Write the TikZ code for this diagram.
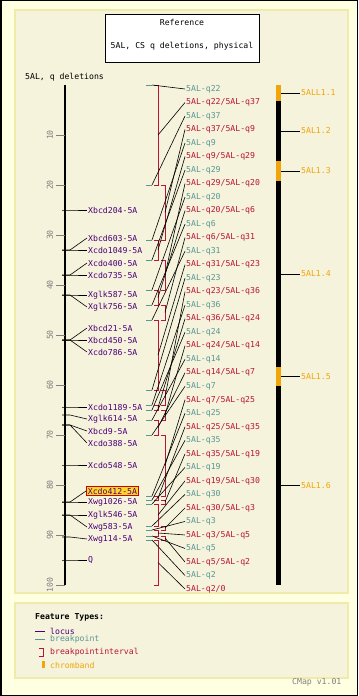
\documentclass[tikz,border=0pt]{standalone}
\usepackage{fontspec}
\setmainfont{DejaVu Sans Mono}
\definecolor{paper}{RGB}{255,255,226}
\definecolor{panel}{RGB}{245,243,220}
\definecolor{panelrule}{RGB}{240,235,170}
\definecolor{locuscol}{RGB}{75,0,120}
\definecolor{bpcol}{RGB}{90,150,150}
\definecolor{intcol}{RGB}{185,20,55}
\definecolor{bandcol}{RGB}{240,165,10}
\definecolor{tickcol}{RGB}{128,128,128}
\definecolor{hilite}{RGB}{255,215,40}
\tikzset{>=stealth,
  txt/.style={font=\fontsize{8.2}{9}\selectfont, inner sep=1bp, anchor=west},
  locus/.style={txt, text=locuscol},
  bplabel/.style={txt, text=bpcol},
  intlabel/.style={txt, text=intcol},
  bandlabel/.style={txt, text=bandcol},
  conn/.style={black, line width=0.6bp},
  bracket/.style={intcol, line width=0.8bp}
}
\begin{document}
\begin{tikzpicture}[x=1bp,y=-1bp]
\useasboundingbox (0,0) rectangle (358,696);
\filldraw[fill=paper, draw=black, line width=1.5bp] (0.75,0.75) rectangle (357.25,695.25);
\filldraw[fill=panel, draw=panelrule, line width=1.5bp] (15,10) rectangle (348,593);
\filldraw[fill=panel, draw=panelrule, line width=1.5bp] (15,603) rectangle (348,678);
\node (ttl) [draw, fill=white, minimum width=154bp, minimum height=48bp, line width=0.8bp] at (182,38) {};
\node (ref) [txt, anchor=center] at (182,22) {Reference};
\node (sub) [txt, anchor=center] at (182,46) {5AL, CS q deletions, physical};
\node (map) [txt] at (24,77) {5AL, q deletions};
\coordinate (top) at (65,85);
\coordinate (bot) at (65,585);
\draw[line width=2.5bp] (top) -- (bot);
\foreach \t in {10,20,...,100} {
  \draw[tickcol, line width=0.8bp] (56,{85+5*\t}) -- (65,{85+5*\t});
  \node (tl\t) [txt, text=tickcol, rotate=90, anchor=center] at (50,{85+5*\t}) {\t};
}
\foreach \ym/\yl/\lbl [count=\k] in {210/210/Xbcd204-5A, 250/238/Xbcd603-5A, 250/250/Xcdo1049-5A,
  275/263/Xcdo400-5A, 275/275/Xcdo735-5A, 295/295/Xglk587-5A, 295/307/Xglk756-5A,
  340/328/Xbcd21-5A, 340/340/Xbcd450-5A, 340/352/Xcdo786-5A, 407/407/Xcdo1189-5A,
  415/419/Xglk614-5A, 425/431/Xbcd9-5A, 425/443/Xcdo388-5A, 465/465/Xcdo548-5A,
  502/502/Xwg1026-5A, 515/515/Xglk546-5A, 515/527/Xwg583-5A, 537/539/Xwg114-5A, 560/560/Q} {
  \coordinate (m\k) at (62,\ym);
  \node (l\k) [locus] at (87,\yl) {\lbl};
  \draw[conn] (m\k) -- ++(8,0) -- (l\k.west);
}
\coordinate (m0) at (62,502);
\node (l0) [locus, fill=hilite, draw=red!80!black, line width=0.8bp, inner xsep=1.5bp] at (86,491) {Xcdo412-5A};
\draw[conn] (m0) -- ++(8,0) -- (l0.west);
\foreach \ya/\yb/\bp/\nx [count=\i] in {85/185/q22/5AL-q37, 185/240/q37/5AL-q9, 240/260/q9/5AL-q29,
  260/290/q29/5AL-q20, 290/305/q20/5AL-q6, 305/320/q6/5AL-q31, 320/390/q31/5AL-q23,
  390/405/q23/5AL-q36, 405/410/q36/5AL-q24, 410/420/q24/5AL-q14, 420/435/q14/5AL-q7,
  435/496/q7/5AL-q25, 496/500/q25/5AL-q35, 500/504/q35/5AL-q19, 504/526/q19/5AL-q30,
  526/530/q30/5AL-q3, 530/536/q3/5AL-q5, 536/540/q5/5AL-q2, 540/585/q2/0} {
  \pgfmathsetmacro{\bx}{isodd(\i) ? 158 : 165}
  \pgfmathsetmacro{\ra}{89+(2*\i-2)*13.514}
  \pgfmathsetmacro{\rb}{89+(2*\i-1)*13.514}
  \draw[bracket] (\bx-4,\ya) -- (\bx,\ya) -- (\bx,\yb) -- (\bx-4,\yb);
  \draw[bpcol, line width=0.8bp] (146,\ya) -- (152,\ya);
  \coordinate (b\i) at (152,\ya);
  \coordinate (i\i) at (\bx,{(\ya+\yb)/2});
  \node (bl\i) [bplabel] at (185,\ra) {5AL-\bp};
  \node (il\i) [intlabel] at (185,\rb) {5AL-\bp/\nx};
}
\foreach \i in {1,...,19} {
  \draw[conn] (b\i) -- (bl\i.west);
  \draw[conn] (i\i) -- (il\i.west);
}
\foreach \ya/\yb/\c/\lbl [count=\j] in {85/101/bandcol/5ALL1.1, 101/161/black/5AL1.2, 161/181/bandcol/5AL1.3,
  181/367/black/5AL1.4, 367/386/bandcol/5AL1.5, 386/585/black/5AL1.6} {
  \fill[\c] (276,\ya) rectangle (281,\yb);
  \coordinate (c\j) at (281,{(\ya+\yb)/2});
  \node (cl\j) [bandlabel] at (300,{(\ya+\yb)/2}) {\lbl};
  \draw[conn] (c\j) -- (cl\j.west);
}
\node (ft) [txt, font=\fontsize{8.2}{9}\selectfont\bfseries] at (34,617) {Feature Types:};
\draw[locuscol, line width=0.9bp] (35,631) -- (45,631);
\node (lg1) [locus] at (49,631) {locus};
\draw[bpcol, line width=0.9bp] (35,639) -- (45,639);
\node (lg2) [bplabel] at (49,639) {breakpoint};
\draw[bracket] (39,648) -- (43,648) -- (43,656) -- (39,656);
\node (lg3) [intlabel] at (49,652) {breakpointinterval};
\fill[bandcol] (42,661) rectangle (45,668);
\node (lg4) [bandlabel] at (49,665) {chromband};
\node (ver) [txt, text=tickcol] at (291,682) {CMap v1.01};
\end{tikzpicture}
\end{document}
